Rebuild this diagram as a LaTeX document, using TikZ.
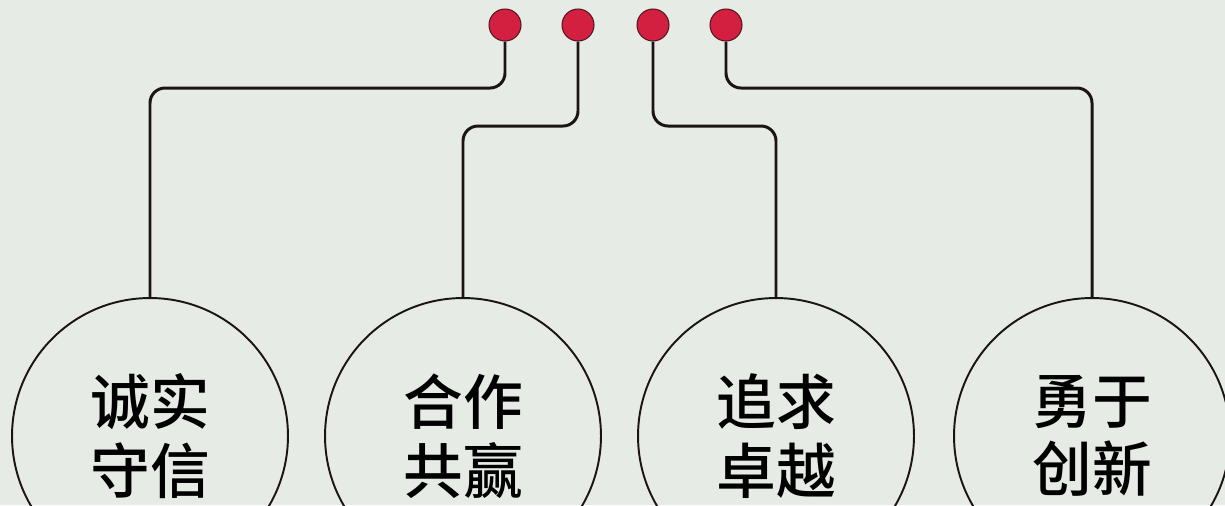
\documentclass[tikz,border=0pt]{standalone}
\usepackage{fontspec}
\newfontfamily\cjk[UprightFont={* Medium}]{Noto Sans CJK SC}
\definecolor{paper}{HTML}{E6EBE5}
\definecolor{dotred}{HTML}{D42040}
\definecolor{wirecol}{HTML}{1C1414}
\begin{document}
\begin{tikzpicture}[x=0.02cm,y=-0.02cm,
    reddot/.style={circle,fill=dotred,draw=wirecol!70!dotred,line width=0.6pt,minimum size=0.64cm,inner sep=0pt},
    ring/.style={circle,draw=wirecol,line width=1.1pt,minimum size=5.52cm,inner sep=0pt,align=center,
      font=\cjk\fontsize{34}{39}\selectfont},
    wire/.style={draw=wirecol,line width=1.7pt,rounded corners=0.3cm}]

	\fill[paper] (0,0) rectangle (1225,505);
	\useasboundingbox (0,0) rectangle (1225,505);
	\clip (0,0) rectangle (1225,505);

	% red dots
	\node[reddot] (d1) at (505,25) {};
	\node[reddot] (d2) at (578,25) {};
	\node[reddot] (d3) at (653,25) {};
	\node[reddot] (d4) at (726,25) {};

	% circles
	\node[ring] (c1) at (150,436) {诚实\\守信};
	\node[ring] (c2) at (463,436) {合作\\共赢};
	\node[ring] (c3) at (776,436) {追求\\卓越};
	\node[ring] (c4) at (1092,436) {勇于\\创新};

	% wires
	\draw[wire] (d1.south) -- (d1.south |- 0,88) -| (c1.north);
	\draw[wire] (d2.south) -- (d2.south |- 0,126) -| (c2.north);
	\draw[wire] (d3.south) -- (d3.south |- 0,126) -| (c3.north);
	\draw[wire] (d4.south) -- (d4.south |- 0,88) -| (c4.north);

\end{tikzpicture}
\end{document}
